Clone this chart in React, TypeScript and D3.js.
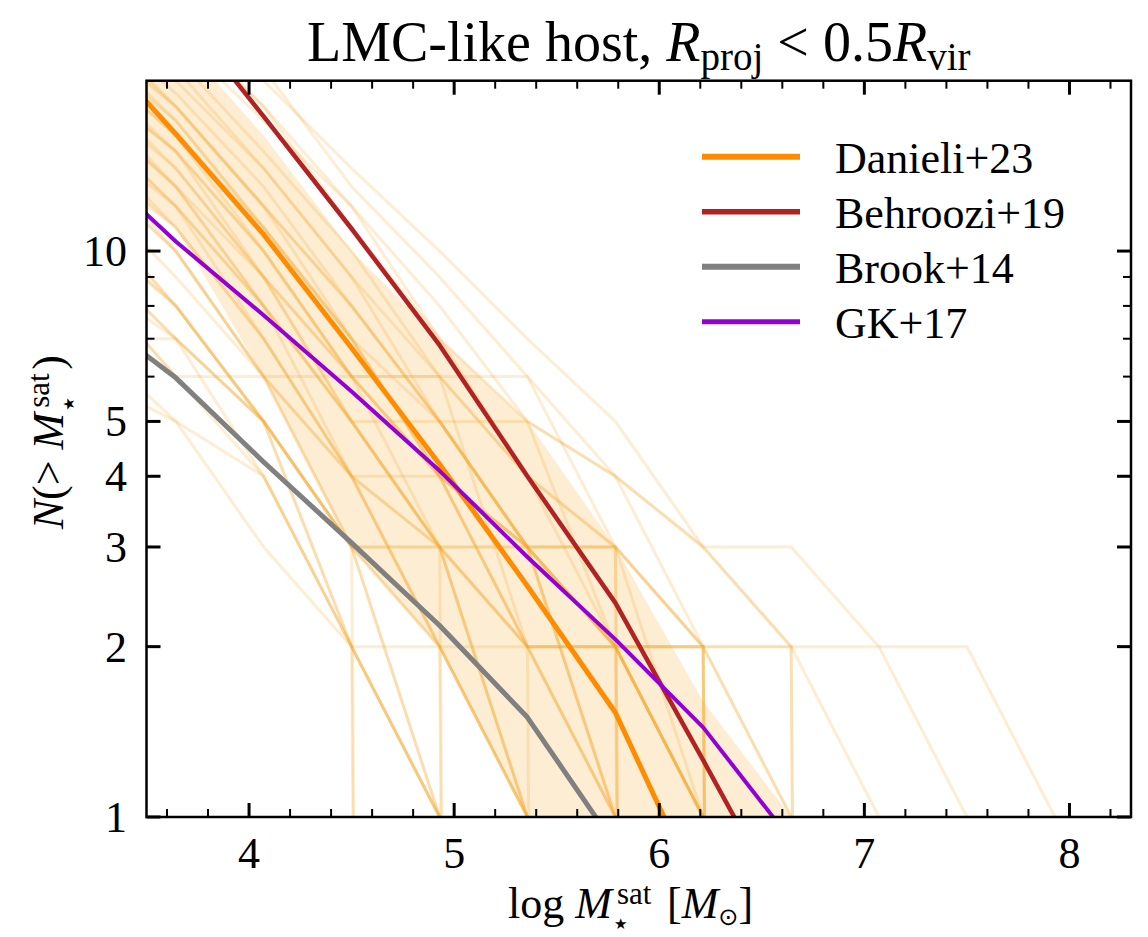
import React from 'react';
import * as d3 from 'd3';

// grid of log stellar mass at which cumulative counts are evaluated
const massGrid = [3.214, 3.643, 4.071, 4.5, 4.929, 5.357, 5.786, 6.214, 6.643, 7.071, 7.5, 7.929, 8.357];

// model curves (values on massGrid)
const danieli = [23.9, 16.1, 10.7, 6.74, 4.2, 2.56, 1.53, 0.71];
const behroozi = [41.7, 27.1, 17.3, 10.95, 6.82, 4.0, 2.39, 1.26, 0.655];
const brook = [7.85, 5.97, 4.24, 3.05, 2.18, 1.5, 0.89];
const gk = [14.5, 10.4, 7.7, 5.65, 4.09, 2.88, 2.06, 1.44, 0.91];

// shaded scatter band
const bandLower = [14, 11, 6, 3, 2, 1, 0, 0, 0, 0];
const bandUpper = [34, 24, 16, 10, 7, 5, 3, 1.6, 1, 0];

// individual realizations N(>M) on massGrid
const realizations = [
  [40, 28, 20, 14, 10, 7, 5, 3, 3, 2, 2, 1, 0],
  [38, 30, 21, 13, 9, 6, 4, 3, 2, 0],
  [34, 26, 18, 12, 8, 5, 4, 3, 2, 1, 0],
  [30, 24, 17, 12, 7, 5, 4, 2, 2, 2, 1, 0],
  [32, 25, 18, 11, 7, 4, 3, 2, 1, 1, 1, 1, 1],
  [30, 22, 15, 10, 6, 4, 3, 2, 1, 0],
  [28, 21, 14, 9, 6, 4, 2, 1, 0],
  [27, 20, 14, 9, 5, 3, 2, 1, 0],
  [26, 19, 13, 8, 5, 3, 1, 0],
  [25, 18, 12, 8, 5, 3, 3, 0],
  [24, 18, 12, 7, 4, 3, 2, 1, 0],
  [23, 17, 11, 7, 4, 2, 1, 0],
  [22, 16, 11, 7, 5, 3, 1, 0],
  [22, 16, 10, 6, 6, 6, 3, 2, 0],
  [21, 15, 10, 6, 4, 2, 2, 0],
  [20, 15, 10, 6, 4, 2, 1, 0],
  [20, 14, 9, 6, 4, 3, 1, 0],
  [19, 14, 9, 5, 5, 5, 2, 1, 0],
  [19, 13, 8, 5, 3, 2, 1, 0],
  [18, 13, 8, 5, 3, 1, 0],
  [18, 13, 9, 5, 3, 2, 0],
  [17, 12, 8, 5, 3, 1, 0],
  [17, 12, 8, 4, 4, 3, 2, 1, 0],
  [16, 12, 7, 4, 3, 3, 3, 1, 0],
  [16, 11, 7, 4, 2, 1, 0],
  [15, 11, 7, 4, 3, 1, 0],
  [15, 10, 6, 4, 2, 1, 0],
  [14, 10, 6, 3, 2, 1, 0],
  [14, 10, 6, 6, 6, 2, 2, 2, 2, 0],
  [13, 9, 6, 3, 3, 3, 3, 0],
  [12, 8, 5, 3, 0],
  [12, 8, 5, 2, 2, 2, 2, 2, 0],
  [11, 8, 5, 2, 1, 0],
  [11, 8, 5, 3, 3, 0],
  [10, 7, 4, 2, 0],
  [9, 7, 5, 3, 1, 0],
  [9, 6, 4, 2, 1, 0],
  [10, 7, 5, 3, 2, 0],
  [7, 5, 3, 2, 1, 0],
  [6, 5, 4, 2, 1, 0],
  [7, 7, 5, 3, 1, 0],
  [9, 6, 6, 4, 2, 1, 0],
  [20, 15, 9, 6, 3, 2, 2, 2, 0],
  [24, 17, 11, 7, 4, 3, 2, 2, 0],
  [26, 18, 12, 8, 5, 3, 2, 1, 0],
];

const xMajorTicks = [4, 5, 6, 7, 8];
const yMajorTicks = [1, 2, 3, 4, 5, 10];
const yTickLabels = ['1', '2', '3', '4', '5', '10'];
const yMinorTicks = [6, 7, 8, 9];

const seriesNames = ['Danieli+23', 'Behroozi+19', 'Brook+14', 'GK+17'];
const seriesColors = ['#ff8c00', '#b22222', '#808080', '#9400d3'];
const seriesWidths = [5, 4.5, 5, 4];
const seriesValues = [danieli, behroozi, brook, gk];

const W = 1148;
const H = 937;
const PL = 146.5, PR = 1131, PT = 80.7, PB = 817;
const FONT = '"Liberation Serif", "DejaVu Serif", serif';
const SYM = '"DejaVu Sans", sans-serif';
const FLOOR = 1e-20;

export default function App() {
  const x = d3.scaleLinear().domain([3.5, 8.3]).range([PL, PR]);
  const y = d3.scaleLog().domain([1, 20]).range([PB, PT]);

  const toPts = (vals: number[]) => vals.map((v, i) => [massGrid[i], v] as [number, number]);
  const line = d3
    .line<[number, number]>()
    .x((d) => x(d[0]))
    .y((d) => y(Math.max(d[1], FLOOR)));

  const bandPts = bandUpper.map((u, i) => ({ m: massGrid[i], lo: bandLower[i], hi: u }));
  const area = d3
    .area<{ m: number; lo: number; hi: number }>()
    .x((d) => x(d.m))
    .y0((d) => y(Math.max(d.lo, FLOOR)))
    .y1((d) => y(Math.max(d.hi, FLOOR)));

  const xMinor = d3
    .range(36, 84, 2)
    .map((v) => v / 10)
    .filter((v) => !xMajorTicks.some((m) => Math.abs(m - v) < 1e-6));

  const majLen = 14, minLen = 8;
  const cx = (PL + PR) / 2;
  const cy = (PT + PB) / 2;

  return (
    <svg
      width={W}
      height={H}
      style={{ position: 'absolute', left: 0, top: 0, display: 'block', background: '#fff' }}
      fontFamily={FONT}
    >
      <defs>
        <clipPath id="plotclip">
          <rect x={PL} y={PT} width={PR - PL} height={PB - PT} />
        </clipPath>
      </defs>

      <g clipPath="url(#plotclip)">
        <path d={area(bandPts) || ''} fill="#f5a623" fillOpacity={0.2} stroke="none" />
        {realizations.map((r, i) => (
          <path
            key={i}
            d={line(toPts(r)) || ''}
            fill="none"
            stroke="#f5a623"
            strokeOpacity={0.2}
            strokeWidth={3}
            strokeLinejoin="round"
          />
        ))}
        {seriesValues.map((vals, i) => (
          <path
            key={seriesNames[i]}
            d={line(toPts(vals)) || ''}
            fill="none"
            stroke={seriesColors[i]}
            strokeWidth={seriesWidths[i]}
            strokeLinejoin="round"
          />
        ))}
      </g>

      {/* ticks */}
      <g stroke="#000">
        {xMajorTicks.map((t) => (
          <g key={'xM' + t} strokeWidth={3}>
            <line x1={x(t)} x2={x(t)} y1={PB} y2={PB - majLen} />
            <line x1={x(t)} x2={x(t)} y1={PT} y2={PT + majLen} />
          </g>
        ))}
        {xMinor.map((t) => (
          <g key={'xm' + t} strokeWidth={2}>
            <line x1={x(t)} x2={x(t)} y1={PB} y2={PB - minLen} />
            <line x1={x(t)} x2={x(t)} y1={PT} y2={PT + minLen} />
          </g>
        ))}
        {yMajorTicks.map((t) => (
          <g key={'yM' + t} strokeWidth={3}>
            <line x1={PL} x2={PL + majLen} y1={y(t)} y2={y(t)} />
            <line x1={PR} x2={PR - majLen} y1={y(t)} y2={y(t)} />
          </g>
        ))}
        {yMinorTicks.map((t) => (
          <g key={'ym' + t} strokeWidth={2}>
            <line x1={PL} x2={PL + minLen} y1={y(t)} y2={y(t)} />
            <line x1={PR} x2={PR - minLen} y1={y(t)} y2={y(t)} />
          </g>
        ))}
      </g>

      <rect x={PL} y={PT} width={PR - PL} height={PB - PT} fill="none" stroke="#000" strokeWidth={2.5} />

      {/* tick labels */}
      {xMajorTicks.map((t) => (
        <text key={'xl' + t} x={x(t)} y={868} textAnchor="middle" fontSize={44} fill="#000">
          {String(t)}
        </text>
      ))}
      {yMajorTicks.map((t, i) => (
        <text key={'yl' + t} x={127} y={y(t)} dy="0.34em" textAnchor="end" fontSize={44} fill="#000">
          {yTickLabels[i]}
        </text>
      ))}

      {/* title */}
      <text x={cx} y={61} textAnchor="middle" fontSize={56} fill="#000">
        LMC-like host,{'\u00a0'}
        <tspan fontStyle="italic">R</tspan>
        <tspan fontSize={39} dy={9}>proj</tspan>
        <tspan dy={-9}>{'\u00a0<\u00a00.5'}</tspan>
        <tspan fontStyle="italic">R</tspan>
        <tspan fontSize={39} dy={9}>vir</tspan>
      </text>

      {/* x label: pieces placed side by side */}
      <text x={612} y={918} textAnchor="end" fontSize={44} fill="#000">
        log{'\u00a0'}
        <tspan fontStyle="italic">M</tspan>
      </text>
      <text x={617} y={904} fontSize={31} fill="#000">sat</text>
      <text x={614} y={929} fontSize={15} fontFamily={SYM} fill="#000">{'\u2605'}</text>
      <text x={667} y={918} fontSize={44} fill="#000">
        [<tspan fontStyle="italic">M</tspan>
        <tspan fontSize={24} dy={7} fontFamily={SYM}>{'\u2299'}</tspan>
        <tspan dy={-7}>]</tspan>
      </text>

      {/* y label (rotated) */}
      <g transform={`translate(63, ${cy}) rotate(-90)`}>
        <text x={36} y={0} textAnchor="end" fontSize={44} fill="#000">
          <tspan fontStyle="italic">N</tspan>
          <tspan>{'(>\u00a0'}</tspan>
          <tspan fontStyle="italic">M</tspan>
        </text>
        <text x={41} y={-14} fontSize={31} fill="#000">sat</text>
        <text x={38} y={11} fontSize={15} fontFamily={SYM} fill="#000">{'\u2605'}</text>
        <text x={79} y={0} fontSize={44} fill="#000">)</text>
      </g>

      {/* legend */}
      {seriesNames.map((name, i) => {
        const ly = 156.7 + i * 55;
        return (
          <g key={'lg' + name}>
            <line x1={702} x2={800} y1={ly} y2={ly} stroke={seriesColors[i]} strokeWidth={seriesWidths[i] + 1} />
            <text x={835} y={ly + 16.5} fontSize={44} fill="#000">
              {name}
            </text>
          </g>
        );
      })}
    </svg>
  );
}
